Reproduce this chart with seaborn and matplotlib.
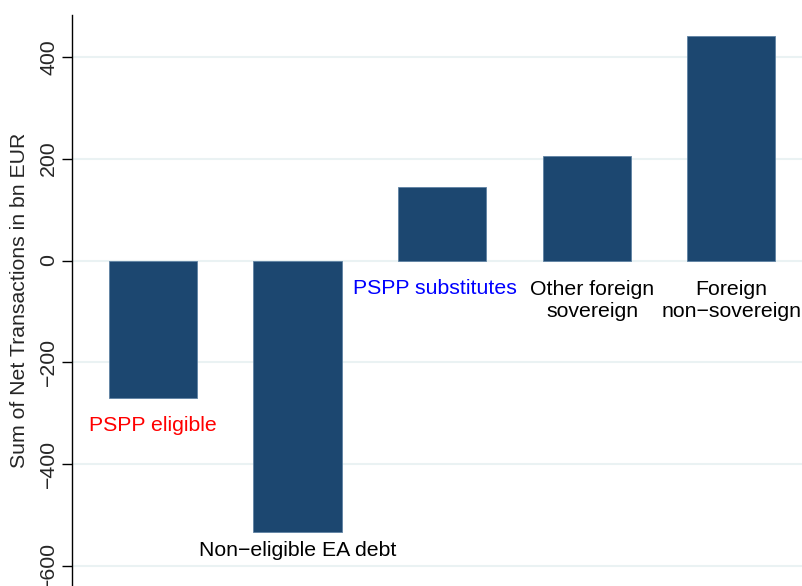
import matplotlib
matplotlib.use("Agg")
import matplotlib.pyplot as plt
import seaborn as sns
import pandas as pd

sns.set_style("white")
plt.rcParams['font.family'] = ['Liberation Sans', 'DejaVu Sans']

categories = ["PSPP eligible", "Non-eligible EA debt", "PSPP substitutes",
              "Other foreign sovereign", "Foreign non-sovereign"]
net_tx = [-270, -533, 144, 205, 441]
labels = ["PSPP eligible", "Non\u2212eligible EA debt", "PSPP substitutes",
          "Other foreign\nsovereign", "Foreign\nnon\u2212sovereign"]
label_x = [0, 0, 1.95, 3.04, 4]
label_y = [-323, -570, -54, -79, -79]
label_colors = ["#ff0000", "black", "#0000ff", "black", "black"]
yticks = [-600, -400, -200, 0, 200, 400]

df = pd.DataFrame({"cat": categories, "val": net_tx})

fig = plt.figure(figsize=(8.02, 5.86), dpi=100)
ax = fig.add_axes([72 / 802, 0, 1 - 72 / 802, (586 - 15) / 586])

sns.barplot(data=df, x="cat", y="val", color="#1c4770", saturation=1,
            width=0.61, edgecolor="#5f82a3", linewidth=0.6, ax=ax, zorder=3)

ax.set_xlim(-0.56, 4.49)
ax.set_ylim(-639, 482)
ax.set_yticks(yticks)
ax.yaxis.grid(True, color="#eaf2f3", linewidth=1.5, zorder=0)
ax.set_axisbelow(True)

fs = 15.3
for i, (lab, y, c) in enumerate(zip(labels, label_y, label_colors)):
    xpos = i if i < 2 else label_x[i]
    ax.text(xpos, y, lab, color=c, ha="center", va="center", fontsize=fs,
            linespacing=1.2, zorder=4)

ax.set_xticks([])
ax.set_xlabel("")
ax.set_ylabel("Sum of Net Transactions in bn EUR", fontsize=fs, labelpad=7)
ax.tick_params(axis="y", labelsize=fs, length=7, width=1, direction="out",
               left=True, labelrotation=90, pad=3, color="black")
for t in ax.get_yticklabels():
    t.set_va("center")

for s in ["top", "right", "bottom"]:
    ax.spines[s].set_visible(False)
ax.spines["left"].set_color("black")
ax.spines["left"].set_linewidth(1)

fig.savefig("out.png", dpi=100)
